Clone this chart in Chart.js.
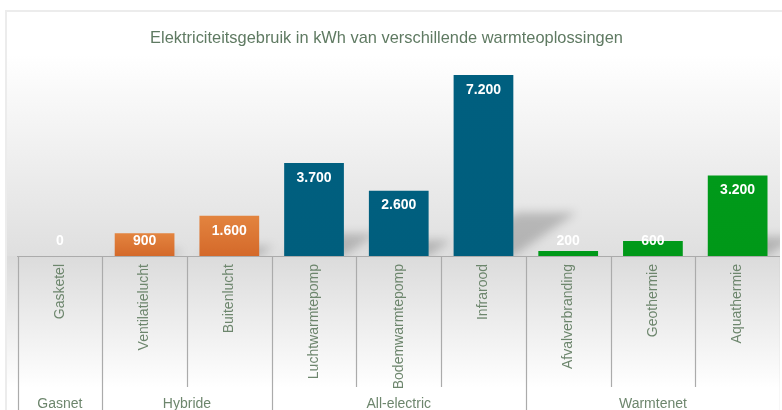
<!DOCTYPE html>
<html><head><meta charset="utf-8">
<script src="https://cdn.jsdelivr.net/npm/chart.js@4/dist/chart.umd.min.js"></script>
<style>
html,body{margin:0;padding:0;background:#fff;overflow:hidden;width:782px;height:410px;}
#frame{position:absolute;left:5px;top:10px;width:800px;height:420px;border-left:2px solid #ececec;border-top:2px solid #ececec;box-sizing:border-box;}
#c{position:absolute;left:-7px;top:0;}
</style></head><body>
<div id="frame"></div>
<canvas id="c" width="787" height="410"></canvas>
<script>
const titleText = 'Elektriciteitsgebruik in kWh van verschillende warmteoplossingen';
const categories = ['Gasketel','Ventilatielucht','Buitenlucht','Luchtwarmtepomp','Bodemwarmtepomp','Infrarood','Afvalverbranding','Geothermie','Aquathermie'];
const values = [0, 900, 1600, 3700, 2600, 7200, 200, 600, 3200];
const groupNames = ['Gasnet','Hybride','All-electric','Warmtenet'];
const groupOfCategory = [0, 1, 1, 2, 2, 2, 3, 3, 3];
const groupColorsTop = ['#D9D9D9', '#E3843F', '#005F7F', '#009A1A'];
const groupColorsBottom = ['#D9D9D9', '#D4692A', '#005E7D', '#009818'];

const FONT = '"Liberation Sans", Arial, sans-serif';
const TEXT_GREEN = '#6d866d';

function fmt(v){ return String(v).replace(/\B(?=(\d{3})+(?!\d))/g, '.'); }

const bgPlugin = {
  id: 'bg',
  beforeDraw(chart){
    const {ctx, chartArea} = chart;
    const x0 = 14, w = chart.width - x0;
    ctx.save();
    let g = ctx.createLinearGradient(0, chartArea.top, 0, chartArea.bottom);
    g.addColorStop(0, '#ffffff');
    g.addColorStop(1, '#dfdfdf');
    ctx.fillStyle = g;
    ctx.fillRect(x0, chartArea.top, w, chartArea.bottom - chartArea.top);
    g = ctx.createLinearGradient(0, chartArea.bottom, 0, 388);
    g.addColorStop(0, '#dbdbdb');
    g.addColorStop(1, '#ffffff');
    ctx.fillStyle = g;
    ctx.fillRect(x0, chartArea.bottom, w, 388 - chartArea.bottom);
    ctx.restore();
  }
};

const shadowPlugin = {
  id: 'shadows',
  beforeDatasetsDraw(chart){
    const {ctx, chartArea} = chart;
    const meta = chart.getDatasetMeta(0);
    ctx.save();
    ctx.beginPath();
    ctx.rect(chartArea.left - 20, chartArea.top, chartArea.right - chartArea.left + 60, chartArea.bottom - chartArea.top);
    ctx.clip();
    ctx.filter = 'blur(5px)';
    ctx.fillStyle = 'rgba(0,0,0,0.2)';
    meta.data.forEach(el => {
      const h = el.base - el.y;
      if (h < 20) return;
      const l = el.x - el.width/2, r = el.x + el.width/2;
      const dx = 0.35 * h, dy = 0.24 * h;
      ctx.beginPath();
      ctx.moveTo(l, el.base);
      ctx.lineTo(r, el.base);
      ctx.lineTo(r + dx, el.base - dy);
      ctx.lineTo(l + dx, el.base - dy);
      ctx.closePath();
      ctx.fill();
    });
    ctx.restore();
  }
};

const labelPlugin = {
  id: 'valueLabels',
  afterDatasetsDraw(chart){
    const {ctx} = chart;
    const meta = chart.getDatasetMeta(0);
    ctx.save();
    ctx.font = 'bold 14px ' + FONT;
    ctx.fillStyle = '#ffffff';
    ctx.textAlign = 'center';
    ctx.textBaseline = 'middle';
    meta.data.forEach((el, i) => {
      const y = Math.min(el.y + 15, el.base - 15);
      ctx.fillText(fmt(values[i]), el.x, y);
    });
    ctx.restore();
  }
};

const axisPlugin = {
  id: 'groupAxis',
  afterDraw(chart){
    const {ctx, chartArea} = chart;
    const xs = chart.scales.x;
    const half = (xs.getPixelForValue(1) - xs.getPixelForValue(0)) / 2;
    ctx.save();
    ctx.strokeStyle = '#ababab';
    ctx.lineWidth = 1.2;
    for (let i = 0; i <= categories.length; i++) {
      const x = i < categories.length ? xs.getPixelForValue(i) - half : xs.getPixelForValue(i - 1) + half;
      const isGroupEdge = i === 0 || i === categories.length || groupOfCategory[i - 1] !== groupOfCategory[i];
      const yEnd = isGroupEdge ? chart.height : 387;
      ctx.beginPath();
      ctx.moveTo(Math.round(x) + 0.5, chartArea.bottom);
      ctx.lineTo(Math.round(x) + 0.5, yEnd);
      ctx.stroke();
    }
    ctx.font = '14px ' + FONT;
    ctx.fillStyle = TEXT_GREEN;
    ctx.textAlign = 'center';
    ctx.textBaseline = 'middle';
    groupNames.forEach((name, g) => {
      const idx = groupOfCategory.map((v, i) => v === g ? i : -1).filter(i => i >= 0);
      const a = xs.getPixelForValue(idx[0]) - half;
      const b = xs.getPixelForValue(idx[idx.length - 1]) + half;
      ctx.fillText(name, (a + b) / 2, 404);
    });
    ctx.restore();
  }
};

function barFill(context){
  const chart = context.chart;
  const i = context.dataIndex;
  const g = groupOfCategory[i];
  const ys = chart.scales.y;
  if (!ys || !chart.chartArea) return groupColorsTop[g];
  const top = ys.getPixelForValue(values[i]);
  const base = ys.getPixelForValue(0);
  if (base - top < 1) return groupColorsTop[g];
  const grad = chart.ctx.createLinearGradient(0, top, 0, base);
  grad.addColorStop(0, groupColorsTop[g]);
  grad.addColorStop(1, groupColorsBottom[g]);
  return grad;
}

new Chart(document.getElementById('c'), {
  type: 'bar',
  data: {
    labels: categories,
    datasets: [{
      data: values,
      backgroundColor: barFill,
      borderWidth: 0,
      barPercentage: 0.705,
      categoryPercentage: 1.0
    }]
  },
  plugins: [bgPlugin, shadowPlugin, labelPlugin, axisPlugin],
  options: {
    responsive: false,
    animation: false,
    devicePixelRatio: 1,
    layout: { padding: { left: 0, right: 0, top: 0, bottom: 0 } },
    plugins: {
      legend: { display: false },
      tooltip: { enabled: false },
      title: {
        display: true,
        text: titleText,
        color: '#5f7a62',
        font: { family: FONT, size: 16.4, weight: 'normal' },
        padding: { top: 28.2, bottom: 7.0 }
      }
    },
    scales: {
      x: {
        type: 'category',
        offset: true,
        grid: { display: false, drawTicks: false },
        border: { display: true, color: '#ababab', width: 1 },
        ticks: {
          autoSkip: false,
          maxRotation: 90,
          minRotation: 90,
          padding: 8,
          color: TEXT_GREEN,
          font: { family: FONT, size: 14 }
        },
        afterFit(scale){ scale.height = 154; }
      },
      y: {
        display: true,
        min: 0,
        max: 8000,
        grid: { display: false, drawTicks: false },
        border: { display: false },
        ticks: { display: false },
        afterFit(scale){ scale.width = 24.5; }
      }
    }
  }
});
</script>
</body></html>
